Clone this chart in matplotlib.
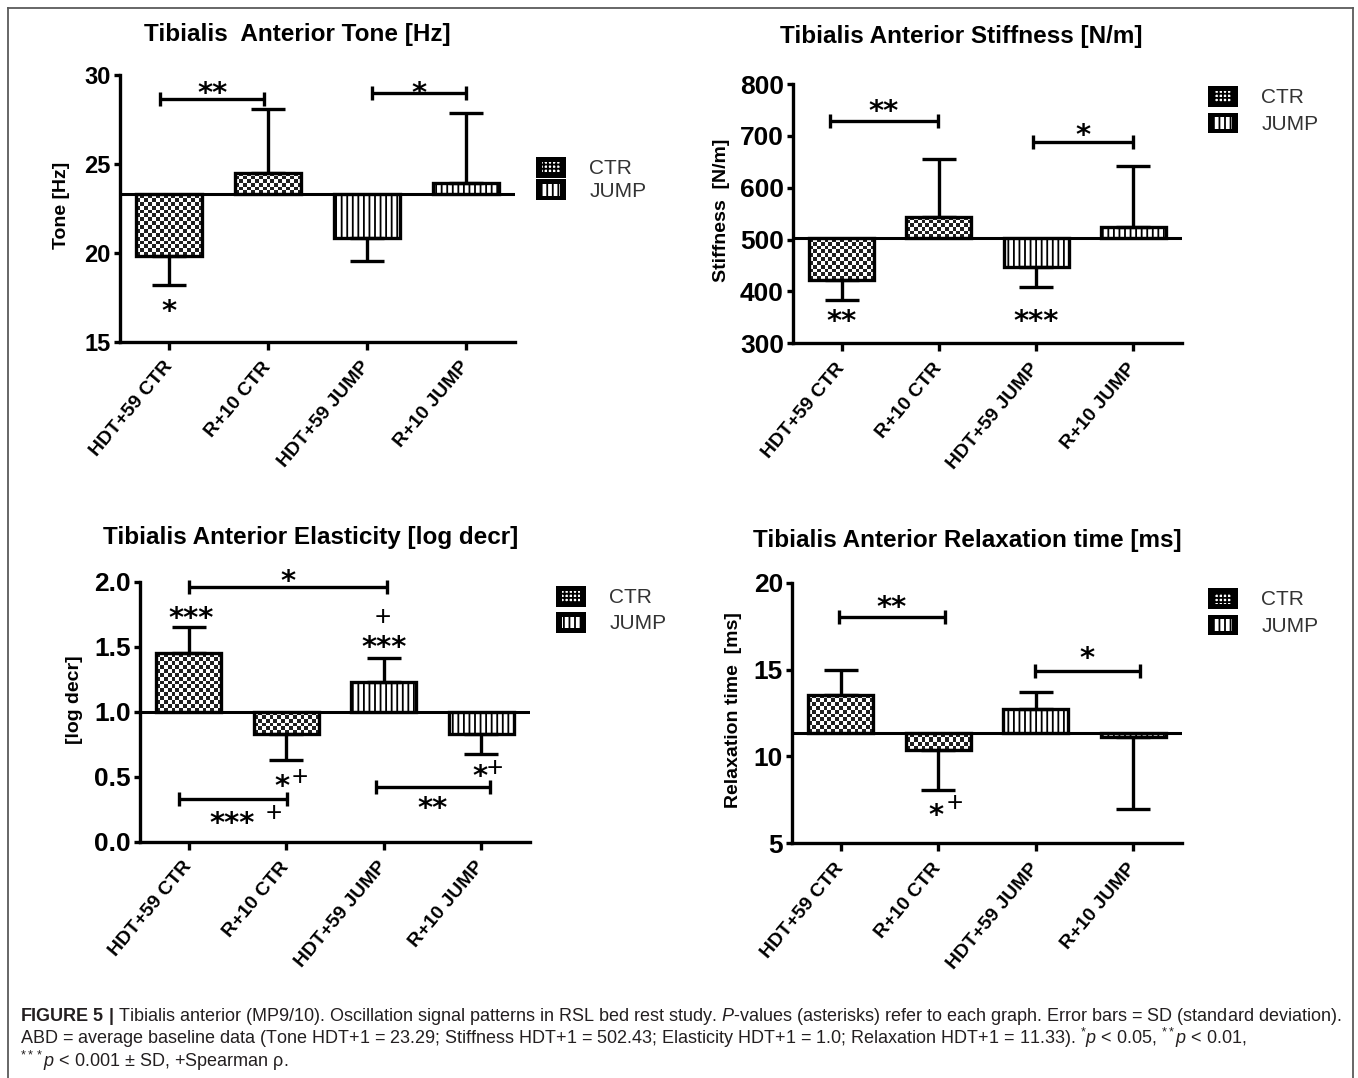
import numpy as np
import matplotlib
matplotlib.use('Agg')
import matplotlib.pyplot as plt
from matplotlib.patches import Rectangle, Patch
from matplotlib.lines import Line2D
from matplotlib.legend_handler import HandlerBase

W, H, DPI = 1358, 1078, 100

plt.rcParams['font.family'] = ['Liberation Sans', 'DejaVu Sans']
plt.rcParams['hatch.linewidth'] = 1.3
plt.rcParams['mathtext.fontset'] = 'custom'
plt.rcParams['mathtext.rm'] = 'Liberation Sans'
plt.rcParams['mathtext.it'] = 'Liberation Sans:italic'
plt.rcParams['mathtext.bf'] = 'Liberation Sans:bold'

# ---------------- data ----------------
categories = ['HDT+59 CTR', 'R+10 CTR', 'HDT+59 JUMP', 'R+10 JUMP']
groups = ['CTR', 'CTR', 'JUMP', 'JUMP']
legend_labels = ['CTR', 'JUMP']

tone_base = 23.29
tone_mean = [19.82, 24.50, 20.85, 23.91]
tone_sd = [1.65, 3.59, 1.31, 3.93]

stiff_base = 502.43
stiff_mean = [422.0, 544.0, 446.6, 525.0]
stiff_sd = [38.5, 111.0, 37.6, 117.5]

elast_base = 1.0
elast_mean = [1.449, 0.828, 1.231, 0.828]
elast_sd = [0.200, 0.200, 0.179, 0.153]

relax_base = 11.33
relax_mean = [13.54, 10.37, 12.71, 11.10]
relax_sd = [1.44, 2.30, 1.02, 4.14]

# significance brackets: (x_start, x_end, y_line, label, y_label)
tone_brackets = [(-0.09, 0.96, 28.67, '**', 29.44), (2.05, 3.0, 29.0, '*', 29.44)]
stiff_brackets = [(-0.12, 0.99, 729, '**', 763), (1.97, 3.0, 689, '*', 718)]
elast_brackets = [(0.0, 2.03, 1.957, '*', 2.07), (-0.10, 1.01, 0.326, '', 0),
                  (1.92, 3.09, 0.423, '**', 0.321)]
relax_brackets = [(-0.02, 1.07, 18.04, '**', 19.1), (1.99, 3.07, 14.92, '*', 16.13)]

# extra annotations: (x, y, text, kind)
tone_notes = [(0.0, 17.17, '*', 'star')]
stiff_notes = [(0.0, 358, '**', 'star'), (2.0, 358, '***', 'star')]
elast_notes = [(0.02, 1.782, '***', 'star'), (1.99, 1.744, '+', 'plus'),
               (2.0, 1.564, '***', 'star'),
               (0.96, 0.488, '*', 'star'), (1.14, 0.513, '+', 'plus'),
               (2.99, 0.565, '*', 'star'), (3.14, 0.577, '+', 'plus'),
               (0.45, 0.205, '***', 'star'), (0.87, 0.231, '+', 'plus')]
relax_notes = [(0.98, 7.1, '*', 'star'), (1.17, 7.4, '+', 'plus')]

fig = plt.figure(figsize=(W / DPI, H / DPI), dpi=DPI)
fig.patch.set_facecolor('white')

# outer frame (open at the bottom)
frame_col = '#5a5a5a'
for (x0, y0, x1, y1) in [(8, 8, 1353, 8), (8, 8, 8, 1080), (1353, 8, 1353, 1080)]:
    fig.add_artist(Line2D([x0 / W, x1 / W], [1 - y0 / H, 1 - y1 / H],
                          transform=fig.transFigure, color=frame_col, lw=1.3))


class BoxHandler(HandlerBase):
    def __init__(self, kind):
        super().__init__()
        self.kind = kind

    def create_artists(self, legend, orig_handle, xdescent, ydescent,
                       width, height, fontsize, trans):
        outer = Rectangle((-xdescent, -ydescent), width, height,
                          facecolor='black', edgecolor='black', lw=0,
                          transform=trans)
        ins = height * 0.22
        hatch = '++++' if self.kind == 'CTR' else '|||'
        inner = Rectangle((-xdescent + ins * 1.3, -ydescent + ins),
                          width - 2.6 * ins, height - 2 * ins,
                          facecolor='white', edgecolor='black', lw=0,
                          hatch=hatch, transform=trans)
        return [outer, inner]


def checker_fill(ax, bar, cell_px=3.8):
    x0, y0 = bar.get_x(), bar.get_y()
    w, h = bar.get_width(), bar.get_height()
    ylo, yhi = min(y0, y0 + h), max(y0, y0 + h)
    (px0, py0), (px1, py1) = ax.transData.transform([(x0, ylo), (x0 + w, yhi)])
    nx = max(1, int(round(abs(px1 - px0) / cell_px)))
    ny = max(1, int(round(abs(py1 - py0) / cell_px)))
    arr = np.add.outer(np.arange(ny), np.arange(nx)) % 2
    im = ax.imshow(arr, extent=(x0, x0 + w, ylo, yhi), cmap='gray', vmin=-0.15, vmax=1,
                   interpolation='nearest', aspect='auto', origin='lower', zorder=2)
    im.set_clip_path(bar)


def star_text(ax, x, y, s, kind):
    if kind == 'star':
        fs = 21
        ax.annotate(s, (x, y), xytext=(0, -0.59 * fs), textcoords='offset points',
                    ha='center', va='baseline', fontsize=fs, fontweight='bold',
                    family='DejaVu Sans', zorder=6, annotation_clip=False)
    else:
        fs = 20
        ax.annotate(s, (x, y), xytext=(0, -0.35 * fs), textcoords='offset points',
                    ha='center', va='baseline', fontsize=fs, fontweight='normal',
                    family='Liberation Sans', zorder=6, annotation_clip=False)


panels = [
    dict(title='Tibialis  Anterior Tone [Hz]', ylabel='Tone [Hz]', base=tone_base,
         mean=tone_mean, sd=tone_sd, ylim=(15, 30), yticks=[15, 20, 25, 30], fmt='{:.0f}',
         box=(120, 75, 515, 341.7), title_xy=(297, 35), ylabel_xy=(61, 205), ytfs=17,
         legend_xy=(536, 157), legend_sp=0.05, brackets=tone_brackets, notes=tone_notes),
    dict(title='Tibialis Anterior Stiffness [N/m]', ylabel='Stiffness  [N/m]', base=stiff_base,
         mean=stiff_mean, sd=stiff_sd, ylim=(300, 800), yticks=[300, 400, 500, 600, 700, 800],
         fmt='{:.0f}', box=(793, 84, 1182, 343.3), title_xy=(961, 37), ylabel_xy=(721, 210),
         ytfs=19, legend_xy=(1208, 86), legend_sp=0.25, brackets=stiff_brackets,
         notes=stiff_notes),
    dict(title='Tibialis Anterior Elasticity [log decr]', ylabel='[log decr]', base=elast_base,
         mean=elast_mean, sd=elast_sd, ylim=(0, 2), yticks=[0, 0.5, 1.0, 1.5, 2.0],
         fmt='{:.1f}', box=(140, 581.7, 530, 841.7), title_xy=(311, 538), ylabel_xy=(74, 700),
         ytfs=19, legend_xy=(556, 586), legend_sp=0.22, brackets=elast_brackets,
         notes=elast_notes),
    dict(title='Tibialis Anterior Relaxation time [ms]', ylabel='Relaxation time  [ms]',
         base=relax_base, mean=relax_mean, sd=relax_sd, ylim=(5, 20), yticks=[5, 10, 15, 20],
         fmt='{:.0f}', box=(792, 582.7, 1182, 843.3), title_xy=(967, 540), ylabel_xy=(734, 710),
         ytfs=19, legend_xy=(1208, 588), legend_sp=0.25, brackets=relax_brackets,
         notes=relax_notes),
]

LW = 2.4
for p in panels:
    l, t, r, b = p['box']
    ax = fig.add_axes([l / W, 1 - b / H, (r - l) / W, (b - t) / H])
    ax.set_xlim(-0.5, 3.5)
    ax.set_ylim(*p['ylim'])
    ax.set_autoscale_on(False)
    for s in ['top', 'right']:
        ax.spines[s].set_visible(False)
    for s in ['left', 'bottom']:
        ax.spines[s].set_linewidth(LW)
    x = np.arange(len(categories))
    base = p['base']
    mean = np.array(p['mean'])
    sd = np.array(p['sd'])
    heights = mean - base
    bars = ax.bar(x, heights, bottom=base, width=0.67, facecolor='none',
                  edgecolor='black', linewidth=LW, zorder=3)
    for bar, g in zip(bars, groups):
        if g == 'CTR':
            checker_fill(ax, bar)
        else:
            bar.set_hatch('|||')
    lower = np.where(mean < base, sd, 0)
    upper = np.where(mean >= base, sd, 0)
    ax.errorbar(x, mean, yerr=[lower, upper], fmt='none', ecolor='black',
                elinewidth=LW, capsize=12.5, capthick=LW, zorder=2.5)
    ax.axhline(base, color='black', lw=2.2, zorder=4)

    for (x1, x2, yl, lab, ylab) in p['brackets']:
        ax.plot([x1, x2], [yl, yl], color='black', lw=LW, marker='|', markersize=10,
                markeredgewidth=LW, solid_capstyle='butt', zorder=5, clip_on=False)
        if lab:
            star_text(ax, (x1 + x2) / 2, ylab, lab, 'star')
    for (nx_, ny_, s, kind) in p['notes']:
        star_text(ax, nx_, ny_, s, kind)

    ax.set_yticks(p['yticks'])
    ax.set_yticklabels([p['fmt'].format(v) for v in p['yticks']], fontsize=p['ytfs'],
                       fontweight='bold')
    ax.set_xticks(x)
    ax.set_xticklabels(categories, rotation=50, ha='right', va='center',
                       rotation_mode='anchor', fontsize=14, fontweight='bold')
    ax.tick_params(axis='y', direction='out', length=4.5, width=LW, pad=2)
    ax.tick_params(axis='x', direction='out', length=6, width=LW, pad=10)

    ax.set_ylabel(p['ylabel'], fontsize=14, fontweight='bold', va='center')
    lx, ly = p['ylabel_xy']
    ax.yaxis.set_label_coords((lx - l) / (r - l), (b - ly) / (b - t))

    tx, ty = p['title_xy']
    fig.text(tx / W, 1 - ty / H, p['title'], ha='center', va='center',
             fontsize=17.5, fontweight='bold')

    handles = [Patch(label=legend_labels[0]), Patch(label=legend_labels[1])]
    gx, gy = p['legend_xy']
    ax.legend(handles=handles,
              handler_map={handles[0]: BoxHandler('CTR'), handles[1]: BoxHandler('JUMP')},
              loc='upper left', bbox_to_anchor=(gx / W, 1 - gy / H),
              bbox_transform=fig.transFigure, frameon=False, borderpad=0,
              borderaxespad=0, fontsize=15, handlelength=1.45, handleheight=1.15,
              handletextpad=1.1, labelspacing=p['legend_sp'], labelcolor='#333333')

# caption
cap_col = '#231f20'
lines = [
    r"$\mathbf{FIGURE\ 5\ |}$ Tibialis anterior (MP9/10). Oscillation signal patterns in RSL bed rest study. "
    r"$P$-values (asterisks) refer to each graph. Error bars = SD (standard deviation).",
    r"ABD = average baseline data (Tone HDT+1 = 23.29; Stiffness HDT+1 = 502.43; Elasticity HDT+1 = 1.0; "
    r"Relaxation HDT+1 = 11.33). $^{*}p$ < 0.05, $^{**}p$ < 0.01,",
    r"$^{***}p$ < 0.001 ± SD, +Spearman ρ.",
]
cap_fs = 11.3
texts = []
for i, ln in enumerate(lines):
    texts.append(fig.text(20 / W, 1 - (1021 + 23 * i) / H, ln, ha='left', va='baseline',
                          fontsize=cap_fs, color=cap_col))
renderer = fig.canvas.get_renderer()
w0 = texts[0].get_window_extent(renderer).width
new_fs = cap_fs * 1325.0 / w0
for t_ in texts:
    t_.set_fontsize(new_fs)

fig.savefig('out.png', dpi=DPI, facecolor='white')
